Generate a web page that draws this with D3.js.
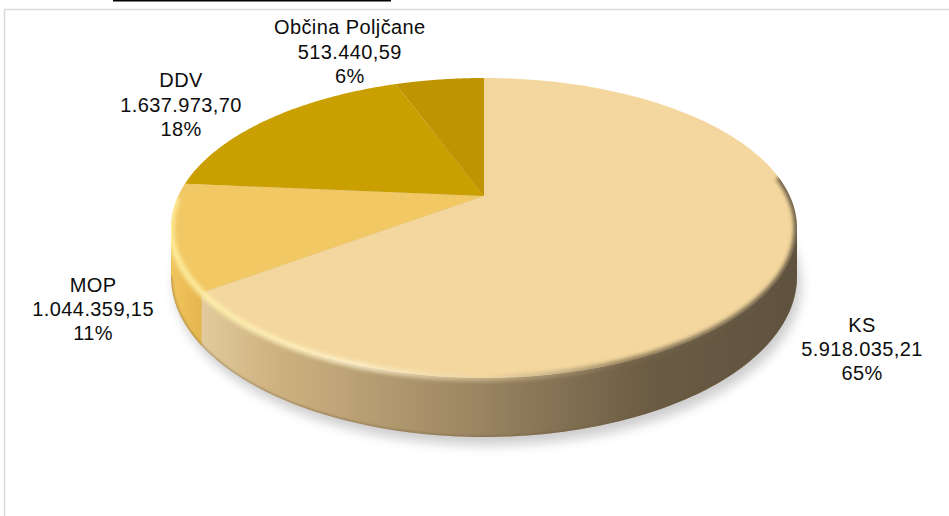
<!DOCTYPE html>
<html>
<head>
<meta charset="utf-8">
<script src="https://cdn.jsdelivr.net/npm/d3@7"></script>
<style>
  html, body { margin: 0; padding: 0; background: #ffffff; }
  svg { display: block; }
  text { font-family: "Liberation Sans", Arial, sans-serif; fill: #0d0d0d; }
</style>
</head>
<body>
<svg id="chart" width="949" height="516"></svg>
<script>
// Funding sources of the project (EUR)
const categories = ["KS", "MOP", "DDV", "Občina Poljčane"];
const values = [5918035.21, 1044359.15, 1637973.70, 513440.59];

// slice colours: top face, side face
const topColors = ["#f4d79e", "#f2c864", "#c9a000", "#be9500"];
const sideColors = ["#d9bf8c", "#e9bb52", "#b08c00", "#a68200"];

const W = 949, H = 516;
const svg = d3.select("#chart");

// ---- 3D disc projection (perspective view of a flat cylinder) ----
const cx = 484;          // screen x of disc centre
const py0 = 196;         // screen y of disc centre (top face)
const qy = -101.36;      // vertical spread of the top face
const kp = 0.2133;       // perspective foreshortening
const sx = 305.8;        // horizontal radius scale
const depth = 46.4;      // disc thickness

function proj(theta, r = 1, bottom = false) {
  const X = r * Math.sin(theta), u = r * Math.cos(theta);
  const den = 1 + kp * u;
  return [cx + sx * X / den, (py0 + qy * u) / den + (bottom ? depth / den : 0)];
}
const arcPts = (a0, a1, bottom = false, n = 120) =>
  d3.range(n + 1).map(i => proj(a0 + (a1 - a0) * i / n, 1, bottom));

const line = d3.line();
const pie = d3.pie().sort(null).startAngle(0).endAngle(2 * Math.PI);
const arcs = pie(values);
const total = d3.sum(values);

// silhouette angles of the side wall
const thR = Math.acos(-kp), thL = 2 * Math.PI - thR;

const defs = svg.append("defs");
const blur = (id, sd) => defs.append("filter").attr("id", id)
  .attr("x", "-20%").attr("y", "-20%").attr("width", "140%").attr("height", "140%")
  .append("feGaussianBlur").attr("stdDeviation", sd);
blur("soft", 6);
blur("rimblur", 2.2);
blur("edgeblur", 0.8);

// chart frame
svg.append("rect").attr("x", 4.5).attr("y", 9.5).attr("width", W + 10).attr("height", H + 10)
  .attr("fill", "none").attr("stroke", "#d9d9d9").attr("stroke-width", 1.5);
// underline of the heading above the chart
svg.append("line").attr("x1", 113).attr("x2", 391).attr("y1", 0.7).attr("y2", 0.7)
  .attr("stroke", "#000").attr("stroke-width", 1.4);

// soft shadow beneath the disc
const bottomRing = arcPts(0, 2 * Math.PI, true, 240);
svg.append("path")
  .attr("d", line(bottomRing.map(p => [p[0] + 4, p[1] + 8])) + "Z")
  .attr("fill", "#000").attr("opacity", 0.2).attr("filter", "url(#soft)");

// silhouette clip (top face + front wall)
const silhouette = line(arcPts(0, 2 * Math.PI, false, 240)) + "Z" +
  line(arcPts(thR, thL, false).concat(arcPts(thR, thL, true).reverse())) + "Z";
defs.append("clipPath").attr("id", "disc").append("path").attr("d", silhouette);

// side wall gradients
const gKS = defs.append("linearGradient").attr("id", "sideKS")
  .attr("gradientUnits", "userSpaceOnUse").attr("x1", 200).attr("x2", 797).attr("y1", 0).attr("y2", 0);
[[0, "#e2cb9c"], [0.12, "#cfb381"], [0.45, "#9d8763"], [0.75, "#6b5c44"], [1, "#5e523f"]]
  .forEach(([o, c]) => gKS.append("stop").attr("offset", o).attr("stop-color", c));
const gMOP = defs.append("linearGradient").attr("id", "sideMOP")
  .attr("gradientUnits", "userSpaceOnUse").attr("x1", 172).attr("x2", 210).attr("y1", 0).attr("y2", 0);
[[0, "#f0c45c"], [1, "#e2b24b"]]
  .forEach(([o, c]) => gMOP.append("stop").attr("offset", o).attr("stop-color", c));
const sideFill = ["url(#sideKS)", "url(#sideMOP)", sideColors[2], sideColors[3]];

const g = svg.append("g");

// front side walls, clipped to the visible range of angles
arcs.forEach((d, i) => {
  const a0 = Math.max(d.startAngle, thR), a1 = Math.min(d.endAngle, thL);
  if (a1 <= a0) return;
  const pts = arcPts(a0, a1, false).concat(arcPts(a0, a1, true).reverse());
  g.append("path").attr("d", line(pts) + "Z").attr("fill", sideFill[i]);
});

// top faces
arcs.forEach((d, i) => {
  const pts = [proj(0, 0)].concat(arcPts(d.startAngle, d.endAngle, false));
  g.append("path").attr("d", line(pts) + "Z").attr("fill", topColors[i]);
});

// rounded rim along the front edge: bright on the lit side, dark on the shaded side
const rimGrad = defs.append("linearGradient").attr("id", "rim")
  .attr("gradientUnits", "userSpaceOnUse").attr("x1", 172).attr("x2", 797).attr("y1", 0).attr("y2", 0);
[[0, "#fff0a0", 0.95], [0.3, "#fff4d2", 0.85], [0.5, "#e9d3a4", 0.6], [0.72, "#7a6a4e", 0.85], [1, "#5e523f", 1]]
  .forEach(([o, c, op]) => rimGrad.append("stop").attr("offset", o).attr("stop-color", c).attr("stop-opacity", op));
const rimLayer = svg.append("g").attr("clip-path", "url(#disc)");
rimLayer.append("path")
  .attr("d", line(arcPts(thR - 0.35, thL + 0.2, false)))
  .attr("fill", "none").attr("stroke", "url(#rim)").attr("stroke-width", 6)
  .attr("filter", "url(#rimblur)");
// darker lower edge of the wall
rimLayer.append("path")
  .attr("d", line(arcPts(thR, thL, true)))
  .attr("fill", "none").attr("stroke", "#6e5a3a").attr("stroke-width", 2).attr("opacity", 0.55)
  .attr("filter", "url(#edgeblur)");

// data labels
const fmt = d3.formatLocale({ decimal: ",", thousands: ".", grouping: [3], currency: ["", ""] }).format(",.2f");
// label anchor = rim point at the slice's middle angle, shifted outward
const labelShift = [[76, 88.4], [-78.6, 79.1], [-88, -7.5], [-89.9, -21]];
const lh = 24.4;
arcs.forEach((d, i) => {
  const mid = (d.startAngle + d.endAngle) / 2;
  const [x0, y0] = proj(mid, 1);
  const x = x0 + labelShift[i][0], y = y0 + labelShift[i][1];
  const t = svg.append("text").attr("text-anchor", "middle").attr("font-size", 20)
    .attr("letter-spacing", 0.4);
  const lines = [categories[i], fmt(values[i]), Math.round(values[i] / total * 100) + "%"];
  lines.forEach((s, j) => t.append("tspan").attr("x", x + 0.2).attr("y", y + (j - 1) * lh).text(s));
});
</script>
</body>
</html>
